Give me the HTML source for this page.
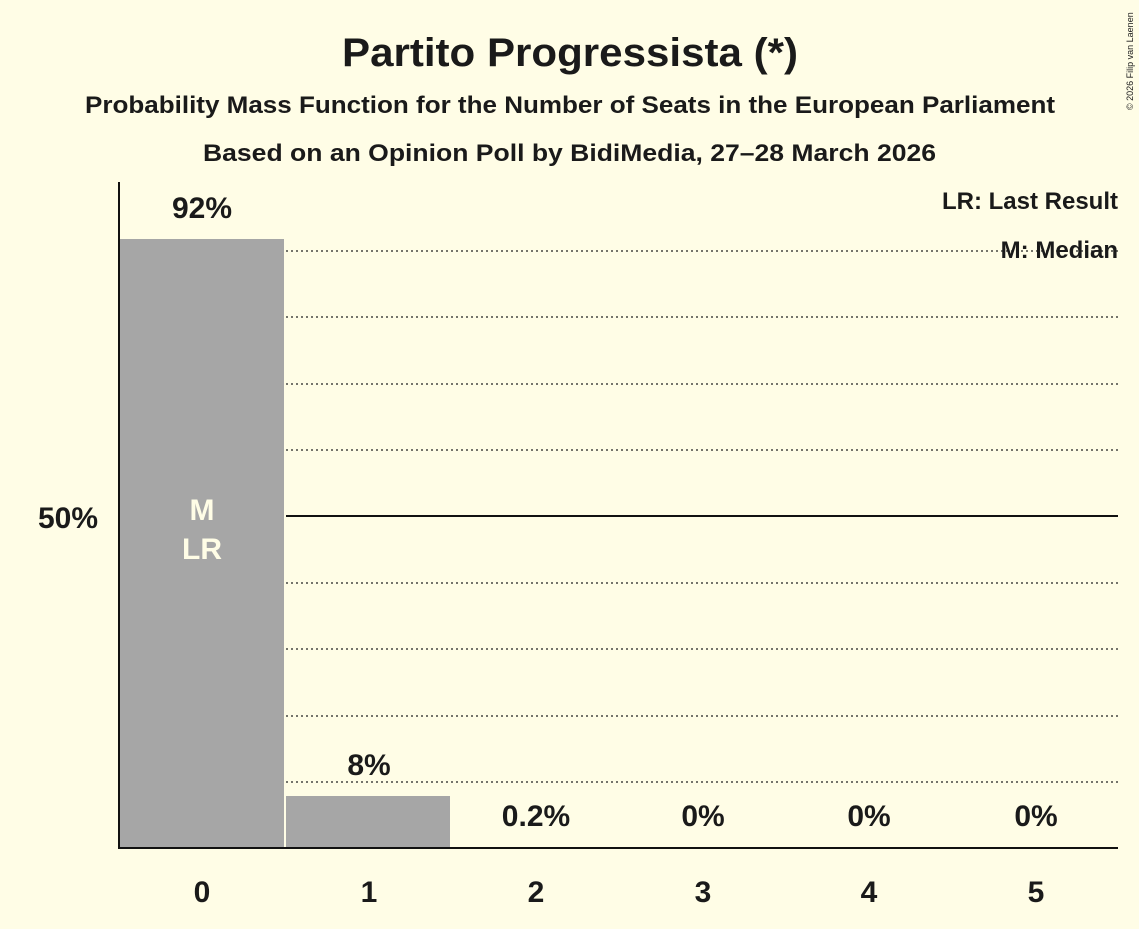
<!DOCTYPE html>
<html><head><meta charset="utf-8"><style>
html,body{margin:0;padding:0;background:#fffde6;}
svg text{font-family:"Liberation Sans",Arial,sans-serif;font-weight:bold;fill:#1a1a1a;}
</style></head><body>
<svg width="1139" height="924" viewBox="0 0 1139 924" xmlns="http://www.w3.org/2000/svg">
<rect width="1139" height="924" fill="#fffde6"/>
<text x="342" y="66" font-size="40" textLength="456" lengthAdjust="spacingAndGlyphs">Partito Progressista (*)</text>
<text x="85" y="113" font-size="24" textLength="970" lengthAdjust="spacingAndGlyphs">Probability Mass Function for the Number of Seats in the European Parliament</text>
<text x="203" y="161" font-size="24" textLength="733" lengthAdjust="spacingAndGlyphs">Based on an Opinion Poll by BidiMedia, 27–28 March 2026</text>
<text x="1133" y="110" font-size="9" transform="rotate(-90 1133 110)" style="font-weight:normal">© 2026 Filip van Laenen</text>
<g stroke="#222" stroke-width="1.3" stroke-dasharray="2,3">
<line x1="286" x2="1118" y1="782" y2="782"/>
<line x1="286" x2="1118" y1="716" y2="716"/>
<line x1="286" x2="1118" y1="649" y2="649"/>
<line x1="286" x2="1118" y1="583" y2="583"/>
<line x1="286" x2="1118" y1="450" y2="450"/>
<line x1="286" x2="1118" y1="384" y2="384"/>
<line x1="286" x2="1118" y1="317" y2="317"/>
<line x1="286" x2="1118" y1="251" y2="251"/>
</g>
<line x1="286" x2="1118" y1="516" y2="516" stroke="#111" stroke-width="2"/>
<rect x="120" y="239" width="164" height="609" fill="#a6a6a6"/>
<rect x="286" y="796" width="164" height="52" fill="#a6a6a6"/>
<line x1="119" y1="182" x2="119" y2="849" stroke="#111" stroke-width="2"/>
<line x1="118" y1="848" x2="1118" y2="848" stroke="#111" stroke-width="2"/>
<text x="98" y="528" font-size="30" text-anchor="end">50%</text>
<text x="202" y="218" font-size="30" text-anchor="middle">92%</text>
<text x="369" y="775" font-size="30" text-anchor="middle">8%</text>
<text x="536" y="826" font-size="30" text-anchor="middle">0.2%</text>
<text x="703" y="826" font-size="30" text-anchor="middle">0%</text>
<text x="869" y="826" font-size="30" text-anchor="middle">0%</text>
<text x="1036" y="826" font-size="30" text-anchor="middle">0%</text>
<text x="202" y="520" font-size="30" text-anchor="middle" style="fill:#fffde6">M</text>
<text x="202" y="559" font-size="30" text-anchor="middle" style="fill:#fffde6">LR</text>
<g font-size="30" text-anchor="middle">
<text x="202" y="902">0</text><text x="369" y="902">1</text><text x="536" y="902">2</text>
<text x="703" y="902">3</text><text x="869" y="902">4</text><text x="1036" y="902">5</text>
</g>
<text x="1118" y="209" font-size="24" text-anchor="end">LR: Last Result</text>
<text x="1118" y="258" font-size="24" text-anchor="end">M: Median</text>
</svg>
</body></html>
